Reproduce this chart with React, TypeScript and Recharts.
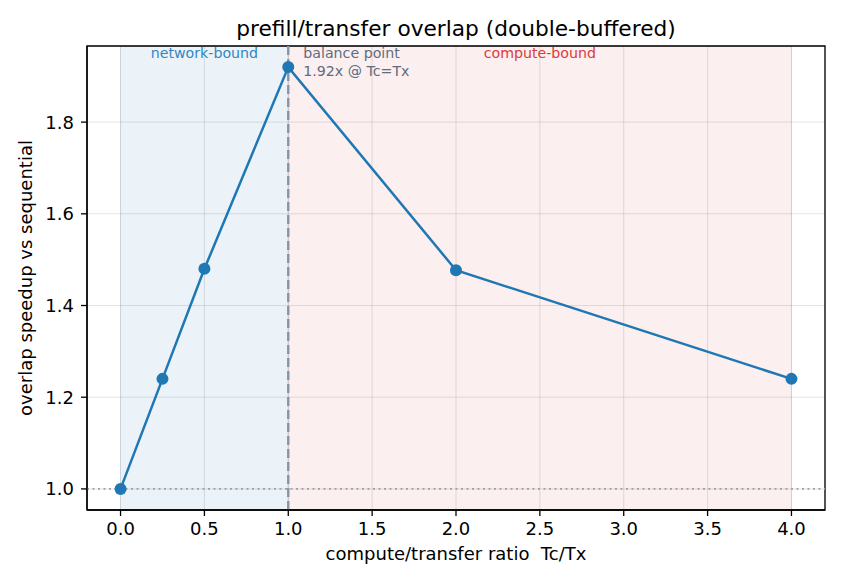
import { ComposedChart, Line, XAxis, YAxis, CartesianGrid, ReferenceArea, ReferenceLine, Label } from 'recharts'

const ratios = [0, 0.25, 0.5, 1.0, 2.0, 4.0]
const speedups = [1.0, 1.24, 1.48, 1.92, 1.477, 1.24]
const xTicks = [0, 0.5, 1, 1.5, 2, 2.5, 3, 3.5, 4]
const yTicks = [1.0, 1.2, 1.4, 1.6, 1.8]
const xDomain = [-0.2, 4.2]
const yDomain = [0.954, 1.966]

const data = ratios.map((r, i) => ({ r, s: speedups[i] }))

const FONT = '"DejaVu Sans", sans-serif'

const XLabel = (props: any) => {
  const { x, y, width } = props.viewBox
  return (
    <text x={x + width / 2} y={y + 50} textAnchor="middle" fontSize={18} fill="#000" fontFamily={FONT} style={{ whiteSpace: 'pre' }}>
      compute/transfer ratio  Tc/Tx
    </text>
  )
}

const YLabel = (props: any) => {
  const { y, height } = props.viewBox
  const cx = 32
  const cy = y + height / 2
  return (
    <text x={cx} y={cy} textAnchor="middle" fontSize={18} fill="#000" fontFamily={FONT} transform={`rotate(-90 ${cx} ${cy})`}>
      overlap speedup vs sequential
    </text>
  )
}

// region label centred at the top of a span
const spanLabel = (text: string, color: string) => (props: any) => {
  const { x, y, width } = props.viewBox
  return (
    <text x={x + width / 2} y={y + 12} textAnchor="middle" fontSize={14.2} fill={color} fontFamily={FONT}>
      {text}
    </text>
  )
}

const BalanceLabel = (props: any) => {
  const { x, y } = props.viewBox
  return (
    <text x={x + 15} y={y + 12} fontSize={14.2} fill="#5d6d7e" fontFamily={FONT}>
      <tspan x={x + 15} dy={0}>balance point</tspan>
      <tspan x={x + 15} dy={17.5}>1.92x @ Tc=Tx</tspan>
    </text>
  )
}

export default function App() {
  return (
    <div style={{ position: 'absolute', left: 0, top: 0, width: 845, height: 585, background: '#fff', fontFamily: FONT }}>
      <div style={{ position: 'absolute', left: 87, width: 738, top: 18, lineHeight: '22px', textAlign: 'center', fontSize: 21.7, color: '#000' }}>
        prefill/transfer overlap (double-buffered)
      </div>
      <ComposedChart width={845} height={585} data={data} margin={{ top: 46, right: 20, bottom: 15, left: 27 }}>
        <ReferenceArea x1={0} x2={1} y1={yDomain[0]} y2={yDomain[1]} fill="#1f77b4" fillOpacity={0.09} stroke="#1f77b4" strokeOpacity={0.1} ifOverflow="visible">
          <Label content={spanLabel('network-bound', '#3386c2')} />
        </ReferenceArea>
        <ReferenceArea x1={1} x2={4} y1={yDomain[0]} y2={yDomain[1]} fill="#d62728" fillOpacity={0.075} stroke="#d62728" strokeOpacity={0.1} ifOverflow="visible">
          <Label content={spanLabel('compute-bound', '#db3b3c')} />
        </ReferenceArea>
        <CartesianGrid stroke="#b0b0b0" strokeOpacity={0.35} strokeWidth={1} />
        <XAxis
          dataKey="r"
          type="number"
          domain={xDomain}
          ticks={xTicks}
          tickFormatter={(v: number) => v.toFixed(1)}
          allowDataOverflow
          height={60}
          tickSize={6}
          tickMargin={6.5}
          tick={{ fontSize: 18, fill: '#000', fontFamily: FONT }}
          axisLine={{ stroke: '#000', strokeWidth: 1.3 }}
          tickLine={{ stroke: '#000', strokeWidth: 1.3 }}
        >
          <Label content={XLabel} />
        </XAxis>
        <YAxis
          type="number"
          domain={yDomain}
          ticks={yTicks}
          tickFormatter={(v: number) => v.toFixed(1)}
          allowDataOverflow
          width={60}
          tickSize={6}
          tickMargin={7}
          tick={{ fontSize: 18, fill: '#000', fontFamily: FONT }}
          axisLine={{ stroke: '#000', strokeWidth: 1.3 }}
          tickLine={{ stroke: '#000', strokeWidth: 1.3 }}
        >
          <Label content={YLabel} />
        </YAxis>
        <ReferenceLine y={1.0} stroke="#9aa3ad" strokeWidth={1.8} strokeDasharray="2 3.5" />
        <ReferenceLine x={1} stroke="#8595a5" strokeWidth={2.4} strokeDasharray="9 4">
          <Label content={BalanceLabel} />
        </ReferenceLine>
        {/* axes frame (top / right spines) */}
        <ReferenceArea x1={xDomain[0]} x2={xDomain[1]} y1={yDomain[0]} y2={yDomain[1]} fill="none" stroke="#000" strokeWidth={1.3} ifOverflow="visible" />
        <Line
          type="linear"
          dataKey="s"
          stroke="#1f77b4"
          strokeWidth={2.5}
          dot={{ r: 6, fill: '#1f77b4', stroke: '#1f77b4', strokeWidth: 0 }}
          activeDot={false}
          isAnimationActive={false}
        />
      </ComposedChart>
    </div>
  )
}
